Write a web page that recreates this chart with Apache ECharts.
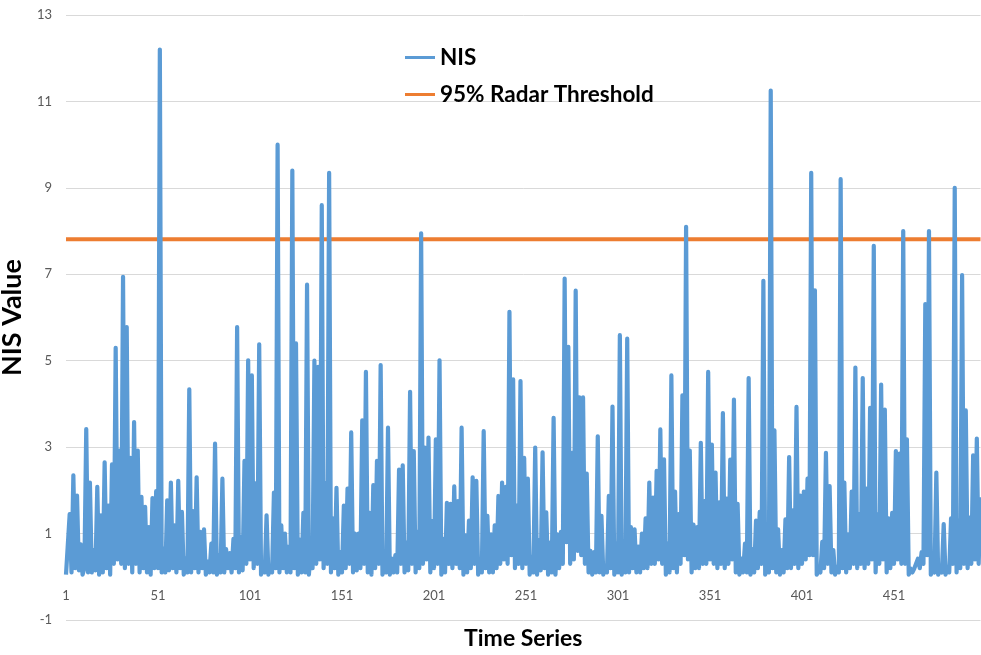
<!DOCTYPE html>
<html>
<head>
<meta charset="utf-8">
<script src="https://cdn.jsdelivr.net/npm/echarts@6/dist/echarts.min.js"></script>
<style>
  html, body { margin: 0; padding: 0; background: #ffffff; }
  #chart { width: 981px; height: 655px; }
</style>
</head>
<body>
<div id="chart"></div>
<script>
// Normalised Innovation Squared per time step
const nisValues = [
  0.05, 0.08, 1.45, 0.1, 2.35, 0.2, 1.88, 0.15, 0.75, 0.05,
  0.2, 3.42, 0.1, 2.18, 0.1, 0.62, 0.15, 2.08, 0.05, 1.42,
  0.1, 2.65, 0.2, 1.65, 0.05, 2.6, 0.3, 5.3, 0.4, 2.92,
  0.3, 6.94, 0.2, 5.78, 0.3, 2.75, 0.1, 3.58, 0.3, 2.92,
  0.1, 1.85, 0.2, 1.62, 0.1, 1.15, 0.05, 1.82, 0.2, 1.98,
  0.2, 12.2, 0.1, 0.65, 0.1, 1.77, 0.15, 2.18, 0.2, 1.19,
  0.1, 2.22, 0.2, 1.5, 0.05, 0.42, 0.1, 4.34, 0.1, 1.52,
  0.2, 2.3, 0.1, 1.04, 0.2, 1.1, 0.05, 0.35, 0.1, 0.77,
  0.1, 3.08, 0.05, 0.5, 0.1, 2.27, 0.1, 0.64, 0.2, 0.55,
  0.1, 0.88, 0.2, 5.78, 0.1, 0.92, 0.15, 2.68, 0.3, 5.01,
  0.4, 4.66, 0.2, 2.16, 0.3, 5.38, 0.05, 0.23, 0.1, 1.42,
  0.05, 0.23, 0.1, 1.95, 0.2, 10.0, 0.1, 1.19, 0.2, 1.0,
  0.1, 0.7, 0.1, 9.4, 0.2, 5.4, 0.05, 0.86, 0.1, 1.48,
  0.1, 6.76, 0.05, 0.57, 0.2, 5.0, 0.3, 4.86, 0.4, 8.6,
  0.2, 2.16, 0.3, 9.35, 0.1, 1.35, 0.2, 2.06, 0.05, 0.57,
  0.1, 1.65, 0.2, 2.04, 0.3, 3.34, 0.1, 1.0, 0.15, 1.0,
  0.2, 3.62, 0.3, 4.74, 0.1, 1.48, 0.05, 2.12, 0.2, 2.68,
  0.3, 4.9, 0.05, 0.27, 0.1, 3.45, 0.05, 0.42, 0.1, 0.5,
  0.1, 2.48, 0.3, 2.58, 0.1, 0.79, 0.15, 4.28, 0.3, 2.91,
  0.1, 1.04, 0.2, 7.95, 0.3, 2.99, 0.4, 3.22, 0.1, 1.29,
  0.2, 3.18, 0.3, 5.01, 0.05, 0.88, 0.1, 1.71, 0.3, 1.69,
  0.2, 2.09, 0.3, 1.75, 0.2, 3.45, 0.05, 0.96, 0.1, 1.3,
  0.2, 2.3, 0.3, 2.22, 0.05, 0.38, 0.1, 3.37, 0.2, 1.41,
  0.1, 0.98, 0.1, 1.19, 0.2, 1.87, 0.3, 2.18, 0.4, 2.08,
  0.3, 6.13, 0.5, 4.57, 0.2, 1.65, 0.3, 4.53, 0.2, 2.75,
  0.3, 2.27, 0.05, 0.46, 0.1, 2.99, 0.05, 0.85, 0.15, 2.88,
  0.2, 1.49, 0.05, 0.79, 0.1, 3.68, 0.05, 0.98, 0.2, 1.04,
  0.3, 6.9, 0.8, 5.32, 0.3, 2.87, 0.4, 6.62, 0.6, 4.15,
  0.5, 4.15, 0.3, 2.39, 0.1, 0.6, 0.05, 0.57, 0.1, 3.25,
  0.1, 1.41, 0.05, 0.23, 0.1, 1.87, 0.2, 3.94, 0.05, 0.77,
  0.1, 5.59, 0.05, 0.77, 0.1, 5.51, 0.1, 1.15, 0.2, 1.1,
  0.1, 0.7, 0.1, 1.0, 0.2, 1.35, 0.2, 2.18, 0.3, 1.83,
  0.3, 2.45, 0.4, 3.41, 0.3, 2.72, 0.05, 0.77, 0.1, 4.66,
  0.2, 1.97, 0.1, 1.45, 0.3, 4.2, 0.5, 8.1, 0.4, 2.92,
  0.1, 1.21, 0.2, 1.15, 0.2, 3.1, 0.3, 1.75, 0.3, 4.74,
  0.4, 3.06, 0.3, 2.41, 0.2, 1.72, 0.3, 3.79, 0.2, 1.81,
  0.3, 2.71, 0.4, 4.1, 0.1, 1.69, 0.05, 0.42, 0.1, 0.77,
  0.1, 4.6, 0.05, 0.64, 0.1, 1.3, 0.2, 1.5, 0.3, 6.85,
  0.05, 0.23, 0.1, 11.25, 0.2, 3.39, 0.1, 1.1, 0.05, 0.62,
  0.1, 1.33, 0.2, 2.77, 0.2, 1.54, 0.3, 3.93, 0.2, 1.88,
  0.3, 1.97, 0.4, 2.27, 0.5, 9.35, 0.5, 6.63, 0.05, 0.15,
  0.1, 0.81, 0.2, 2.87, 0.3, 2.1, 0.1, 0.62, 0.05, 0.23,
  0.1, 9.2, 0.2, 2.18, 0.1, 0.98, 0.2, 1.97, 0.3, 4.84,
  0.2, 1.45, 0.3, 4.6, 0.2, 2.04, 0.3, 3.91, 0.4, 7.66,
  0.1, 1.44, 0.3, 4.45, 0.4, 3.87, 0.1, 1.35, 0.2, 1.48,
  0.3, 2.91, 0.4, 2.85, 0.3, 8.0, 0.3, 3.18, 0.05, 0.19,
  0.1, 0.19, 0.15, 0.42, 0.2, 0.57, 0.3, 6.31, 0.5, 8.0,
  0.05, 0.15, 0.1, 2.41, 0.05, 0.15, 0.1, 1.22, 0.05, 0.23,
  0.1, 1.35, 0.3, 9.0, 0.1, 1.3, 0.2, 6.98, 0.3, 3.85,
  0.2, 1.37, 0.3, 2.81, 0.4, 3.2, 0.3, 1.84
];

// Chi-square 95% gate used as the radar threshold
const threshold = 7.81;

// Time-step labels 1..N
const timeSteps = nisValues.map((_, i) => String(i + 1));

// Value-axis labels
const yTicks = [-1, 1, 3, 5, 7, 9, 11, 13];
const yMin = -1;
const yMax = 13;

const gridTop = 15;
const gridBottom = 35;
const chartHeight = 655;

// Pixel distance from the bottom of the plot (y = -1) up to the y = 0 line,
// so the category axis labels sit just under zero.
const plotHeight = chartHeight - gridTop - gridBottom;
const zeroLift = plotHeight * (0 - yMin) / (yMax - yMin);

const chart = echarts.init(document.getElementById('chart'), null, { renderer: 'canvas' });

const labelFont = 'Lato, "Liberation Sans", sans-serif';

chart.setOption({
  animation: false,
  backgroundColor: '#ffffff',
  grid: { left: 66, right: 0.5, top: gridTop, bottom: gridBottom, containLabel: false, outerBoundsMode: 'none' },
  legend: {
    orient: 'vertical',
    left: 405,
    top: 46,
    padding: 0,
    icon: 'rect',
    data: ['NIS', '95% Radar Threshold'],
    itemWidth: 30,
    itemHeight: 3,
    itemGap: 14,
    textStyle: {
      fontFamily: labelFont,
      fontWeight: 'bold',
      fontSize: 22.5,
      lineHeight: 22,
      color: '#000000'
    }
  },
  xAxis: {
    type: 'category',
    data: timeSteps,
    boundaryGap: false,
    offset: -zeroLift,
    name: 'Time Series',
    nameLocation: 'middle',
    nameGap: 50,
    nameTextStyle: { fontFamily: labelFont, fontWeight: 'bold', fontSize: 23, color: '#000000' },
    axisLine: { show: false, onZero: false },
    axisTick: { show: false },
    splitLine: { show: false },
    axisLabel: {
      interval: 49,
      margin: 13,
      color: '#595959',
      fontFamily: labelFont,
      fontSize: 13
    }
  },
  yAxis: {
    type: 'value',
    min: yMin,
    max: yMax,
    name: 'NIS Value',
    nameLocation: 'middle',
    nameGap: 30,
    nameRotate: 90,
    nameTextStyle: { fontFamily: labelFont, fontWeight: 'bold', fontSize: 27, color: '#000000' },
    axisLine: { show: false },
    axisTick: { show: false, customValues: yTicks },
    axisLabel: {
      customValues: yTicks,
      margin: 14,
      color: '#595959',
      fontFamily: labelFont,
      fontSize: 13
    },
    splitLine: { show: true, lineStyle: { color: '#d9d9d9', width: 1 } }
  },
  series: [
    {
      name: 'NIS',
      type: 'line',
      data: nisValues,
      symbol: 'none',
      z: 3,
      lineStyle: { color: '#5b9bd5', width: 4.2, join: 'round' },
      itemStyle: { color: '#5b9bd5' }
    },
    {
      name: '95% Radar Threshold',
      type: 'line',
      data: [[timeSteps[0], threshold], [timeSteps[timeSteps.length - 1], threshold]],
      symbol: 'none',
      z: 2,
      lineStyle: { color: '#ed7d31', width: 4 },
      itemStyle: { color: '#ed7d31' }
    }
  ]
});
</script>
</body>
</html>
